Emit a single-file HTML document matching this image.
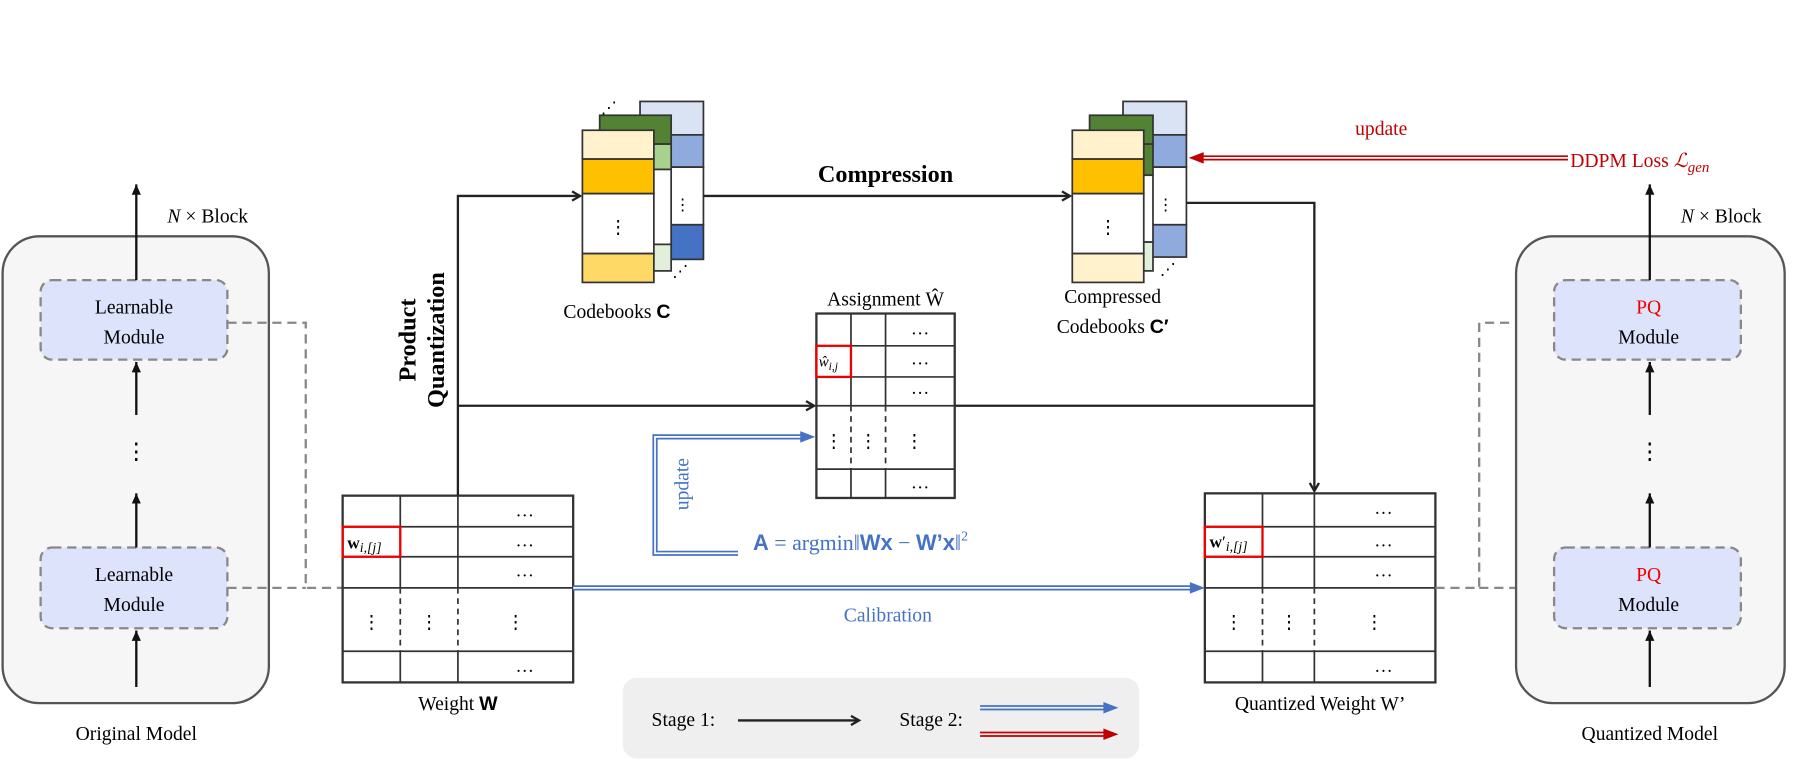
<!DOCTYPE html>
<html><head><meta charset="utf-8"><style>
html,body{margin:0;padding:0;background:#fff;}
svg{display:block;}
text{font-family:"Liberation Serif",serif;}
</style></head><body>
<svg width="1808" height="770" viewBox="0 0 1568 668" xmlns="http://www.w3.org/2000/svg">
<defs>
<marker id="ah" markerWidth="10" markerHeight="10" refX="8" refY="5" orient="auto" markerUnits="userSpaceOnUse"><path d="M1,1 L8,5 L1,9" fill="none" stroke="#222" stroke-width="2"/></marker>
<marker id="ahs" markerWidth="10" markerHeight="10" refX="9" refY="5" orient="auto" markerUnits="userSpaceOnUse"><path d="M0,1 L9,5 L0,9 Z" fill="#111"/></marker>
</defs>

<rect x="2" y="205" width="231" height="405" rx="32" fill="#f6f6f6" stroke="#555" stroke-width="2"/>
<rect x="35" y="243" width="162" height="69" rx="10" fill="#dde3fb" stroke="#888" stroke-width="2" stroke-dasharray="8,5"/>
<text x="116" y="272" font-size="17" text-anchor="middle">Learnable</text>
<text x="116" y="298" font-size="17" text-anchor="middle">Module</text>
<rect x="35" y="475" width="162" height="70" rx="10" fill="#dde3fb" stroke="#888" stroke-width="2" stroke-dasharray="8,5"/>
<text x="116" y="504" font-size="17" text-anchor="middle">Learnable</text>
<text x="116" y="530" font-size="17" text-anchor="middle">Module</text>
<line x1="118" y1="596" x2="118" y2="547" stroke="#111" stroke-width="2" marker-end="url(#ahs)"/>
<line x1="118" y1="475" x2="118" y2="428" stroke="#111" stroke-width="2" marker-end="url(#ahs)"/>
<text x="118" y="398" font-size="20" text-anchor="middle">⋮</text>
<line x1="118" y1="360" x2="118" y2="314" stroke="#111" stroke-width="2" marker-end="url(#ahs)"/>
<line x1="118" y1="243" x2="118" y2="160" stroke="#111" stroke-width="2" marker-end="url(#ahs)"/>
<text x="145" y="193" font-size="17"><tspan font-style="italic">N</tspan> × Block</text>
<text x="118" y="642" font-size="17" text-anchor="middle">Original Model</text>

<polyline points="197,280 265,280 265,510 297,510" fill="none" stroke="#888" stroke-width="2" stroke-dasharray="8,5"/>
<line x1="197" y1="510" x2="265" y2="510" stroke="#888" stroke-width="2" stroke-dasharray="8,5"/>

<g stroke="#333" stroke-width="1.5" fill="none">
<rect x="297" y="430" width="200" height="162" stroke-width="2"/>
<line x1="297" y1="457" x2="497" y2="457"/><line x1="297" y1="483" x2="497" y2="483"/>
<line x1="297" y1="510" x2="497" y2="510"/><line x1="297" y1="565" x2="497" y2="565"/>
<line x1="347" y1="430" x2="347" y2="510"/><line x1="397" y1="430" x2="397" y2="510"/>
<line x1="347" y1="565" x2="347" y2="592"/><line x1="397" y1="565" x2="397" y2="592"/>
<line x1="347" y1="510" x2="347" y2="565" stroke-dasharray="5,4"/><line x1="397" y1="510" x2="397" y2="565" stroke-dasharray="5,4"/>
</g>
<g font-size="16" text-anchor="middle">
<text x="455" y="448">…</text><text x="455" y="474">…</text><text x="455" y="500">…</text><text x="455" y="583">…</text>
<text x="322" y="545">⋮</text><text x="372" y="545">⋮</text><text x="447" y="545">⋮</text>
</g>
<rect x="297" y="457" width="50" height="26" fill="none" stroke="#e00" stroke-width="2"/>
<text x="301" y="476" font-size="15"><tspan font-weight="bold">w</tspan><tspan font-style="italic" font-size="12" dy="3">i,[j]</tspan></text>
<text x="397" y="616" font-size="17" text-anchor="middle">Weight <tspan font-weight="bold" font-family="Liberation Sans, sans-serif">W</tspan></text>

<polyline points="397,430 397,170 503,170" fill="none" stroke="#222" stroke-width="2" marker-end="url(#ah)"/>
<line x1="397" y1="352" x2="706" y2="352" stroke="#222" stroke-width="2" marker-end="url(#ah)"/>
<text transform="translate(360,295) rotate(-90)" font-size="21" font-weight="bold" text-anchor="middle">Product</text>
<text transform="translate(385,295) rotate(-90)" font-size="21" font-weight="bold" text-anchor="middle">Quantization</text>

<g stroke="#333" stroke-width="1.5">
<rect x="555" y="88" width="55" height="29" fill="#dae3f3"/><rect x="555" y="117" width="55" height="28" fill="#8faadc"/>
<rect x="555" y="145" width="55" height="50" fill="#fff"/><rect x="555" y="195" width="55" height="30" fill="#4472c4"/>
<rect x="520" y="100" width="62" height="25" fill="#548235"/><rect x="520" y="125" width="62" height="22" fill="#a9d18e"/>
<rect x="520" y="147" width="62" height="65" fill="#fff"/><rect x="520" y="212" width="62" height="23" fill="#e2efda"/>
<rect x="505" y="113" width="62" height="25" fill="#fff2cc"/><rect x="505" y="138" width="62" height="30" fill="#ffc000"/>
<rect x="505" y="168" width="62" height="52" fill="#fff"/><rect x="505" y="220" width="62" height="25" fill="#ffd966"/>
</g>
<text x="536" y="202" font-size="16" text-anchor="middle">⋮</text>
<text x="592" y="182" font-size="14" text-anchor="middle">⋮</text>
<text x="528" y="98" font-size="14" text-anchor="middle">⋰</text>
<text x="590" y="240" font-size="14" text-anchor="middle">⋰</text>
<text x="535" y="276" font-size="17" text-anchor="middle">Codebooks <tspan font-weight="bold" font-family="Liberation Sans, sans-serif">C</tspan></text>

<line x1="610" y1="170" x2="928" y2="170" stroke="#222" stroke-width="2" marker-end="url(#ah)"/>
<text x="768" y="158" font-size="21" font-weight="bold" text-anchor="middle">Compression</text>

<g stroke="#333" stroke-width="1.5">
<rect x="974" y="88" width="55" height="29" fill="#dae3f3"/><rect x="974" y="117" width="55" height="28" fill="#8faadc"/>
<rect x="974" y="145" width="55" height="50" fill="#fff"/><rect x="974" y="195" width="55" height="28" fill="#8faadc"/>
<rect x="945" y="100" width="55" height="25" fill="#548235"/><rect x="945" y="125" width="55" height="27" fill="#548235"/>
<rect x="945" y="152" width="55" height="58" fill="#fff"/><rect x="945" y="210" width="55" height="25" fill="#e2efda"/>
<rect x="930" y="113" width="62" height="25" fill="#fff2cc"/><rect x="930" y="138" width="62" height="30" fill="#ffc000"/>
<rect x="930" y="168" width="62" height="52" fill="#fff"/><rect x="930" y="220" width="62" height="25" fill="#fff2cc"/>
</g>
<text x="961" y="202" font-size="16" text-anchor="middle">⋮</text>
<text x="1011" y="182" font-size="14" text-anchor="middle">⋮</text>
<text x="1013" y="238" font-size="14" text-anchor="middle">⋰</text>
<text x="965" y="263" font-size="17" text-anchor="middle">Compressed</text>
<text x="965" y="289" font-size="17" text-anchor="middle">Codebooks <tspan font-weight="bold" font-family="Liberation Sans, sans-serif">C′</tspan></text>

<polyline points="1029,176 1140,176 1140,426" fill="none" stroke="#222" stroke-width="2" marker-end="url(#ah)"/>
<line x1="828" y1="352" x2="1140" y2="352" stroke="#222" stroke-width="2"/>

<line x1="1360" y1="137" x2="1042" y2="137" stroke="#c00000" stroke-width="4.5"/>
<line x1="1360" y1="137" x2="1042" y2="137" stroke="#fff" stroke-width="1.5"/>
<path d="M1031,137 L1044,132 L1044,142 Z" fill="#c00000"/>
<text x="1198" y="117" font-size="17" fill="#c00000" text-anchor="middle">update</text>
<text x="1362" y="145" font-size="17" fill="#c00000">DDPM Loss <tspan font-style="italic">ℒ</tspan><tspan font-style="italic" font-size="13" dy="4">gen</tspan></text>

<text x="768" y="265" font-size="17" text-anchor="middle">Assignment Ŵ</text>
<g stroke="#333" stroke-width="1.5" fill="none">
<rect x="708" y="272" width="120" height="160" stroke-width="2"/>
<line x1="708" y1="300" x2="828" y2="300"/><line x1="708" y1="327" x2="828" y2="327"/>
<line x1="708" y1="352" x2="828" y2="352"/><line x1="708" y1="407" x2="828" y2="407"/>
<line x1="738" y1="272" x2="738" y2="352"/><line x1="768" y1="272" x2="768" y2="352"/>
<line x1="738" y1="407" x2="738" y2="432"/><line x1="768" y1="407" x2="768" y2="432"/>
<line x1="738" y1="352" x2="738" y2="407" stroke-dasharray="5,4"/><line x1="768" y1="352" x2="768" y2="407" stroke-dasharray="5,4"/>
</g>
<g font-size="16" text-anchor="middle">
<text x="798" y="290">…</text><text x="798" y="316">…</text><text x="798" y="342">…</text><text x="798" y="424">…</text>
<text x="723" y="388">⋮</text><text x="753" y="388">⋮</text><text x="793" y="388">⋮</text>
</g>
<rect x="708" y="300" width="30" height="27" fill="none" stroke="#e00" stroke-width="2"/>
<text x="710" y="318" font-size="13" font-style="italic">ŵ<tspan font-size="10" dy="3">i,j</tspan></text>

<polyline points="640,480 568,480 568,379 696,379" fill="none" stroke="#4472c4" stroke-width="4.5"/>
<polyline points="640,480 568,480 568,379 696,379" fill="none" stroke="#fff" stroke-width="1.5"/>
<path d="M707,379 L694,374 L694,384 Z" fill="#4472c4"/>
<text transform="translate(597,420) rotate(-90)" font-size="17" fill="#4472c4" text-anchor="middle">update</text>
<text x="653" y="477" font-size="19" fill="#4472c4"><tspan font-weight="bold" font-family="Liberation Sans, sans-serif">A</tspan> = argmin‖<tspan font-weight="bold" font-family="Liberation Sans, sans-serif">Wx</tspan> − <tspan font-weight="bold" font-family="Liberation Sans, sans-serif">W’x</tspan>‖<tspan font-size="12" dy="-8">2</tspan></text>

<line x1="497" y1="510" x2="1033" y2="510" stroke="#4472c4" stroke-width="4.5"/>
<line x1="497" y1="510" x2="1033" y2="510" stroke="#fff" stroke-width="1.5"/>
<path d="M1045,510 L1032,505 L1032,515 Z" fill="#4472c4"/>
<text x="770" y="539" font-size="17" fill="#4472c4" text-anchor="middle">Calibration</text>

<g stroke="#333" stroke-width="1.5" fill="none">
<rect x="1045" y="428" width="200" height="164" stroke-width="2"/>
<line x1="1045" y1="457" x2="1245" y2="457"/><line x1="1045" y1="483" x2="1245" y2="483"/>
<line x1="1045" y1="510" x2="1245" y2="510"/><line x1="1045" y1="565" x2="1245" y2="565"/>
<line x1="1095" y1="428" x2="1095" y2="510"/><line x1="1140" y1="428" x2="1140" y2="510"/>
<line x1="1095" y1="565" x2="1095" y2="592"/><line x1="1140" y1="565" x2="1140" y2="592"/>
<line x1="1095" y1="510" x2="1095" y2="565" stroke-dasharray="5,4"/><line x1="1140" y1="510" x2="1140" y2="565" stroke-dasharray="5,4"/>
</g>
<g font-size="16" text-anchor="middle">
<text x="1200" y="446">…</text><text x="1200" y="474">…</text><text x="1200" y="500">…</text><text x="1200" y="583">…</text>
<text x="1070" y="545">⋮</text><text x="1118" y="545">⋮</text><text x="1192" y="545">⋮</text>
</g>
<rect x="1045" y="457" width="50" height="26" fill="none" stroke="#e00" stroke-width="2"/>
<text x="1049" y="475" font-size="15"><tspan font-weight="bold">w</tspan>′<tspan font-style="italic" font-size="12" dy="3">i,[j]</tspan></text>
<text x="1145" y="616" font-size="17" text-anchor="middle">Quantized Weight W’</text>

<polyline points="1245,510 1283,510 1283,280 1348,280" fill="none" stroke="#888" stroke-width="2" stroke-dasharray="8,5"/>
<line x1="1283" y1="510" x2="1348" y2="510" stroke="#888" stroke-width="2" stroke-dasharray="8,5"/>

<rect x="1315" y="205" width="233" height="405" rx="32" fill="#f6f6f6" stroke="#555" stroke-width="2"/>
<rect x="1348" y="243" width="162" height="69" rx="10" fill="#dde3fb" stroke="#888" stroke-width="2" stroke-dasharray="8,5"/>
<text x="1430" y="272" font-size="17" fill="#e00" text-anchor="middle">PQ</text>
<text x="1430" y="298" font-size="17" text-anchor="middle">Module</text>
<rect x="1348" y="475" width="162" height="70" rx="10" fill="#dde3fb" stroke="#888" stroke-width="2" stroke-dasharray="8,5"/>
<text x="1430" y="504" font-size="17" fill="#e00" text-anchor="middle">PQ</text>
<text x="1430" y="530" font-size="17" text-anchor="middle">Module</text>
<line x1="1431" y1="596" x2="1431" y2="547" stroke="#111" stroke-width="2" marker-end="url(#ahs)"/>
<line x1="1431" y1="475" x2="1431" y2="428" stroke="#111" stroke-width="2" marker-end="url(#ahs)"/>
<text x="1431" y="398" font-size="20" text-anchor="middle">⋮</text>
<line x1="1431" y1="360" x2="1431" y2="314" stroke="#111" stroke-width="2" marker-end="url(#ahs)"/>
<line x1="1431" y1="243" x2="1431" y2="160" stroke="#111" stroke-width="2" marker-end="url(#ahs)"/>
<text x="1458" y="193" font-size="17"><tspan font-style="italic">N</tspan> × Block</text>
<text x="1431" y="642" font-size="17" text-anchor="middle">Quantized Model</text>

<rect x="540" y="588" width="448" height="70" rx="12" fill="#efefef"/>
<text x="565" y="630" font-size="17">Stage 1:</text>
<line x1="640" y1="625" x2="745" y2="625" stroke="#222" stroke-width="2" marker-end="url(#ah)"/>
<text x="780" y="630" font-size="17">Stage 2:</text>
<line x1="850" y1="614" x2="958" y2="614" stroke="#4472c4" stroke-width="4.5"/>
<line x1="850" y1="614" x2="958" y2="614" stroke="#efefef" stroke-width="1.5"/>
<path d="M970,614 L957,609 L957,619 Z" fill="#4472c4"/>
<line x1="850" y1="637" x2="958" y2="637" stroke="#c00000" stroke-width="4.5"/>
<line x1="850" y1="637" x2="958" y2="637" stroke="#efefef" stroke-width="1.5"/>
<path d="M970,637 L957,632 L957,642 Z" fill="#c00000"/>
</svg>
</body></html>
